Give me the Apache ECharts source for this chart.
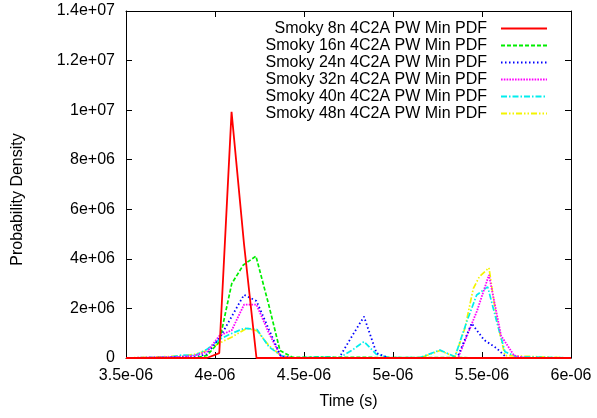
<!DOCTYPE html>
<html>
<head>
<meta charset="utf-8">
<script src="https://cdn.jsdelivr.net/npm/echarts@6/dist/echarts.min.js"></script>
<style>
html,body{margin:0;padding:0;background:#fff;}
#chart{width:597px;height:418px;}
</style>
</head>
<body>
<div id="chart"></div>
<script>
// ---- data (time in seconds, density values) ----
var seriesNames = [
  "Smoky 8n 4C2A PW Min PDF",
  "Smoky 16n 4C2A PW Min PDF",
  "Smoky 24n 4C2A PW Min PDF",
  "Smoky 32n 4C2A PW Min PDF",
  "Smoky 40n 4C2A PW Min PDF",
  "Smoky 48n 4C2A PW Min PDF"
];
var xTickLabels = ["3.5e-06", "4e-06", "4.5e-06", "5e-06", "5.5e-06", "6e-06"];
var yTickLabels = ["0", "2e+06", "4e+06", "6e+06", "8e+06", "1e+07", "1.2e+07", "1.4e+07"];

var t8 = [3.5e-6, 3.9545e-6, 4.024e-6, 4.093e-6, 4.163e-6, 4.233e-6, 6.0e-6];
var p8 = [0, 0, 0.2e6, 9.93e6, 4.6e6, 0, 0];

var t16 = [3.5e-6, 3.885e-6, 3.9545e-6, 4.024e-6, 4.094e-6, 4.159e-6, 4.230e-6, 4.300e-6, 4.365e-6, 4.435e-6, 6.0e-6];
var p16 = [0, 0, 0.1e6, 0.65e6, 3.0e6, 3.75e6, 4.11e6, 2.2e6, 0.3e6, 0.03e6, 0];

var t24 = [3.5e-6, 3.882e-6, 3.955e-6, 4.025e-6, 4.096e-6, 4.163e-6, 4.233e-6, 4.303e-6, 4.371e-6, 4.441e-6,
           4.697e-6, 4.767e-6, 4.837e-6, 4.907e-6, 4.978e-6,
           5.360e-6, 5.442e-6, 5.511e-6, 5.581e-6, 5.640e-6, 6.0e-6];
var p24 = [0, 0.03e6, 0.15e6, 0.8e6, 1.7e6, 2.55e6, 2.3e6, 1.15e6, 0.05e6, 0,
           0, 0.85e6, 1.67e6, 0.2e6, 0,
           0, 1.4e6, 0.73e6, 0.4e6, 0, 0];

var t32 = [3.5e-6, 3.815e-6, 3.885e-6, 3.955e-6, 4.025e-6, 4.094e-6, 4.163e-6, 4.233e-6, 4.303e-6, 4.371e-6, 4.441e-6,
           5.365e-6, 5.402e-6, 5.472e-6, 5.539e-6, 5.607e-6, 5.680e-6, 5.747e-6, 6.0e-6];
var p32 = [0, 0.05e6, 0.1e6, 0.25e6, 0.9e6, 1.12e6, 2.15e6, 2.15e6, 1.0e6, 0.05e6, 0,
           0, 0.65e6, 1.9e6, 3.35e6, 0.9e6, 0.1e6, 0, 0];

var t40 = [3.5e-6, 3.747e-6, 3.815e-6, 3.885e-6, 3.955e-6, 4.025e-6, 4.096e-6, 4.166e-6, 4.236e-6, 4.303e-6, 4.371e-6, 4.441e-6,
           4.59e-6, 4.657e-6, 4.697e-6, 4.767e-6, 4.837e-6, 4.907e-6, 4.978e-6,
           5.152e-6, 5.264e-6, 5.348e-6, 5.414e-6, 5.470e-6, 5.532e-6, 5.583e-6, 5.629e-6, 5.697e-6, 6.0e-6];
var p40 = [0, 0.03e6, 0.12e6, 0.1e6, 0.35e6, 0.75e6, 1.0e6, 1.2e6, 1.15e6, 0.45e6, 0.1e6, 0,
           0.05e6, 0.03e6, 0, 0.3e6, 0.66e6, 0.15e6, 0.02e6,
           0.02e6, 0.32e6, 0.05e6, 1.46e6, 2.54e6, 2.87e6, 1.46e6, 0.25e6, 0.05e6, 0];

var t48 = [3.5e-6, 3.815e-6, 3.885e-6, 3.955e-6, 4.025e-6, 4.096e-6, 4.178e-6, 4.236e-6, 4.303e-6, 4.371e-6, 4.441e-6,
           5.152e-6, 5.264e-6, 5.348e-6, 5.404e-6, 5.451e-6, 5.485e-6, 5.539e-6, 5.583e-6, 5.629e-6, 6.0e-6];
var p48 = [0, 0.08e6, 0.15e6, 0.3e6, 0.6e6, 0.85e6, 1.2e6, 1.1e6, 0.5e6, 0.1e6, 0,
           0, 0.3e6, 0.05e6, 1.2e6, 2.8e6, 3.28e6, 3.64e6, 1.53e6, 0.1e6, 0];

var times = [t8, t16, t24, t32, t40, t48];
var values = [p8, p16, p24, p32, p40, p48];
var colors = ["#ff0000", "#00ee00", "#0000ff", "#ff00ff", "#00eeee", "#f4f400"];
var dashes = ["solid", [4, 2], [1.5, 2.5], [1.6, 1.2], [6, 2, 1.5, 2], [6, 2, 1.5, 2, 1.5, 2]];
var widths = [1.8, 1.7, 1.8, 1.8, 1.7, 1.7];

var FONT = "'Liberation Sans', Arial, sans-serif";
var chart = echarts.init(document.getElementById('chart'), null, {renderer: 'canvas'});

var series = seriesNames.map(function (name, i) {
  return {
    name: name,
    type: 'line',
    showSymbol: false,
    symbol: 'none',
    legendIcon: 'none',
    data: times[i].map(function (t, k) { return [t, values[i][k]]; }),
    lineStyle: {color: colors[i], width: widths[i], type: dashes[i]},
    itemStyle: {color: colors[i]},
    z: 10 - i
  };
});

var legendData = seriesNames.map(function (name, i) {
  return {
    name: name,
    itemStyle: {opacity: 0, borderWidth: 0, color: colors[i]},
    lineStyle: {color: colors[i], width: 2, type: dashes[i], opacity: 1}
  };
});

function xLab(v) {
  var idx = Math.round((v - 3.5e-6) / 5e-7);
  return xTickLabels[idx] !== undefined ? xTickLabels[idx] : '';
}
function yLab(v) {
  var idx = Math.round(v / 2e6);
  return yTickLabels[idx] !== undefined ? yTickLabels[idx] : '';
}

var axisTxt = {color: '#000', fontFamily: FONT, fontSize: 16};

chart.setOption({
  animation: false,
  backgroundColor: '#fff',
  grid: {left: 126, right: 26, top: 11, bottom: 60, containLabel: false},
  legend: {
    orient: 'vertical',
    align: 'right',
    right: 44,
    top: 15,
    itemWidth: 46,
    itemHeight: 10,
    itemGap: 0,
    textStyle: {color: '#000', fontFamily: FONT, fontSize: 16, lineHeight: 17, padding: [0, 9, 0, 0]},
    data: legendData
  },
  xAxis: [{
    type: 'value', min: 3.5e-6, max: 6e-6, interval: 5e-7,
    name: 'Time (s)', nameLocation: 'middle', nameGap: 36,
    nameTextStyle: axisTxt,
    axisLine: {show: true, onZero: false, lineStyle: {color: '#000', width: 1}},
    axisTick: {show: true, inside: true, length: 6, lineStyle: {color: '#000'}},
    axisLabel: {formatter: xLab, margin: 10, color: '#000', fontFamily: FONT, fontSize: 16},
    splitLine: {show: false}
  }, {
    type: 'value', position: 'top', min: 3.5e-6, max: 6e-6, interval: 5e-7,
    axisLine: {show: true, onZero: false, lineStyle: {color: '#000', width: 1}},
    axisTick: {show: true, inside: true, length: 6, lineStyle: {color: '#000'}},
    axisLabel: {show: false}, splitLine: {show: false}
  }],
  yAxis: [{
    type: 'value', min: 0, max: 1.4e7, interval: 2e6,
    name: 'Probability Density', nameLocation: 'middle', nameGap: 100, nameRotate: 90,
    nameTextStyle: {color: '#000', fontFamily: FONT, fontSize: 16, padding: [0, 30, 0, 0]},
    axisLine: {show: true, onZero: false, lineStyle: {color: '#000', width: 1}},
    axisTick: {show: true, inside: true, length: 6, lineStyle: {color: '#000'}},
    axisLabel: {formatter: yLab, margin: 11, color: '#000', fontFamily: FONT, fontSize: 16},
    splitLine: {show: false}
  }, {
    type: 'value', position: 'right', min: 0, max: 1.4e7, interval: 2e6,
    axisLine: {show: true, onZero: false, lineStyle: {color: '#000', width: 1}},
    axisTick: {show: true, inside: true, length: 6, lineStyle: {color: '#000'}},
    axisLabel: {show: false}, splitLine: {show: false}
  }],
  series: series
});
</script>
</body>
</html>
